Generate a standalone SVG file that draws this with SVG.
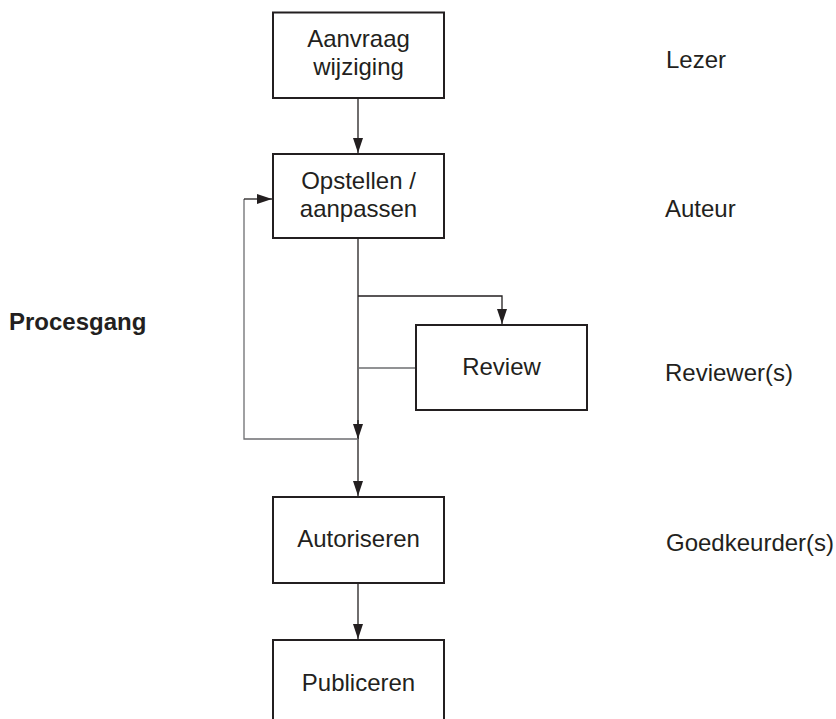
<svg xmlns="http://www.w3.org/2000/svg" width="836" height="719" viewBox="0 0 836 719">
<style>
.box{fill:#fff;stroke:#231f20;stroke-width:2}
.t{font-family:"Liberation Sans",Arial,sans-serif;font-size:24px;fill:#231f20}
.c{text-anchor:middle}
.b{font-weight:bold}
.ln{fill:none;stroke:#231f20;stroke-width:1.3}
.lg{fill:none;stroke:#6d6e71;stroke-width:1.3}
</style>
<defs>
<marker id="ah" viewBox="0 0 15 10" refX="15" refY="5" markerWidth="15" markerHeight="10" markerUnits="userSpaceOnUse" orient="auto">
<path d="M0,0 L15,5 L0,10 Z" fill="#231f20"/>
</marker>
</defs>
<rect width="836" height="719" fill="#fff"/>
<g id="connectors">
<path class="ln" d="M358,98 V153" marker-end="url(#ah)"/>
<path class="ln" d="M358,238 V439"/>
<path class="ln" d="M358,420 V439" marker-end="url(#ah)"/>
<path class="ln" d="M358,439 V496" marker-end="url(#ah)"/>
<path class="ln" d="M358,296 H502 V324" marker-end="url(#ah)"/>
<path class="lg" d="M416,368 H358"/>
<path class="lg" d="M358,439 H244 V199"/>
<path class="ln" d="M244,199 H272" marker-end="url(#ah)"/>
<path class="ln" d="M358,583 V639" marker-end="url(#ah)"/>
</g>
<g id="n1"><rect class="box" x="273" y="12.5" width="171" height="85.5"/>
<text class="t c" x="358.5" y="47">Aanvraag</text><text class="t c" x="358.5" y="75">wijziging</text></g>
<g id="n2"><rect class="box" x="273" y="154" width="171" height="84"/>
<text class="t c" x="358.5" y="189">Opstellen /</text><text class="t c" x="358.5" y="217">aanpassen</text></g>
<g id="n3"><rect class="box" x="416" y="325" width="171" height="85"/>
<text class="t c" x="501.5" y="375">Review</text></g>
<g id="n4"><rect class="box" x="273" y="497" width="171" height="86"/>
<text class="t c" x="358.5" y="547">Autoriseren</text></g>
<g id="n5"><rect class="box" x="273" y="640" width="171" height="100"/>
<text class="t c" x="358.5" y="691">Publiceren</text></g>
<g id="labels">
<text class="t b" x="9" y="330">Procesgang</text>
<text class="t" x="666" y="68">Lezer</text>
<text class="t" x="665" y="217">Auteur</text>
<text class="t" x="665" y="381">Reviewer(s)</text>
<text class="t" x="666" y="551">Goedkeurder(s)</text>
</g>
</svg>
